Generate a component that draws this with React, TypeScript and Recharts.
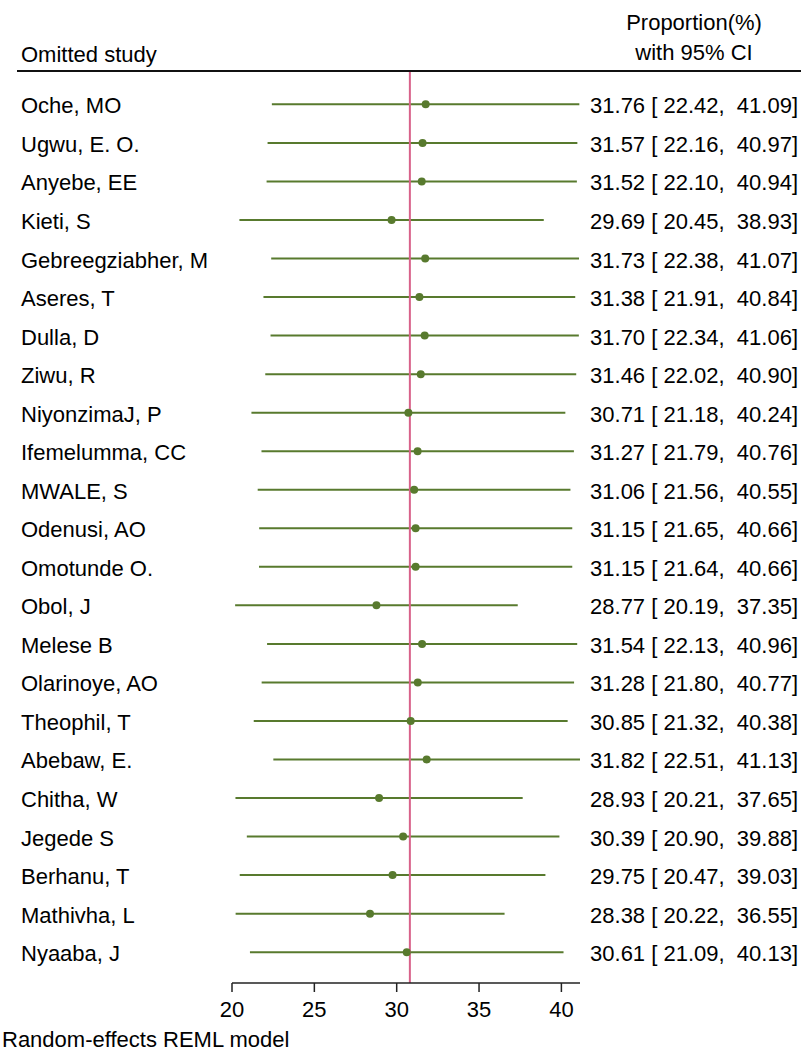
import {
  ErrorBar,
  ReferenceLine,
  Scatter,
  ScatterChart,
  XAxis,
  YAxis,
} from "recharts";

const studies = [
  "Oche, MO",
  "Ugwu, E. O.",
  "Anyebe, EE",
  "Kieti, S",
  "Gebreegziabher, M",
  "Aseres, T",
  "Dulla, D",
  "Ziwu, R",
  "NiyonzimaJ, P",
  "Ifemelumma, CC",
  "MWALE, S",
  "Odenusi, AO",
  "Omotunde O.",
  "Obol, J",
  "Melese B",
  "Olarinoye, AO",
  "Theophil, T",
  "Abebaw, E.",
  "Chitha, W",
  "Jegede S",
  "Berhanu, T",
  "Mathivha, L",
  "Nyaaba, J",
];

const estimates = [
  31.76, 31.57, 31.52, 29.69, 31.73, 31.38, 31.7, 31.46, 30.71, 31.27, 31.06,
  31.15, 31.15, 28.77, 31.54, 31.28, 30.85, 31.82, 28.93, 30.39, 29.75, 28.38,
  30.61,
];

const lowers = [
  22.42, 22.16, 22.1, 20.45, 22.38, 21.91, 22.34, 22.02, 21.18, 21.79, 21.56,
  21.65, 21.64, 20.19, 22.13, 21.8, 21.32, 22.51, 20.21, 20.9, 20.47, 20.22,
  21.09,
];

const uppers = [
  41.09, 40.97, 40.94, 38.93, 41.07, 40.84, 41.06, 40.9, 40.24, 40.76, 40.55,
  40.66, 40.66, 37.35, 40.96, 40.77, 40.38, 41.13, 37.65, 39.88, 39.03, 36.55,
  40.13,
];

const overall = 30.8;
const xTicks = [20, 25, 30, 35, 40];

const GREEN = "#587a2e";
const PINK = "#d8628a";
const FONT = '"Liberation Sans", Arial, Helvetica, sans-serif';

const rows = studies.map((name, i) => ({
  row: i,
  name,
  est: estimates[i],
  err: [estimates[i] - lowers[i], uppers[i] - estimates[i]],
  label: `${estimates[i].toFixed(2)} [ ${lowers[i].toFixed(2)},  ${uppers[i].toFixed(2)}]`,
}));

function RowTick(props: any) {
  const { y, payload } = props;
  const r = rows[payload.value];
  if (!r) return null;
  return (
    <g>
      <text x={21} y={y} dy={9} fontSize={22} fill="#000" textAnchor="start">
        {r.name}
      </text>
      <text
        x={798}
        y={y}
        dy={9}
        fontSize={22}
        fill="#000"
        textAnchor="end"
        style={{ whiteSpace: "pre" }}
      >
        {r.label}
      </text>
    </g>
  );
}

function Dot(props: any) {
  const { cx, cy } = props;
  return <circle cx={cx} cy={cy} r={4} fill={GREEN} />;
}

export default function App() {
  return (
    <div
      style={{
        position: "absolute",
        left: 0,
        top: 0,
        width: 801,
        height: 1052,
        background: "#fff",
        fontFamily: FONT,
        color: "#000",
      }}
    >
      <div style={{ position: "absolute", left: 21, top: 42, fontSize: 22, lineHeight: "25px" }}>
        Omitted study
      </div>
      <div
        style={{
          position: "absolute",
          left: 594,
          top: 11,
          width: 200,
          textAlign: "center",
          fontSize: 22,
          lineHeight: "30px",
        }}
      >
        <div style={{ marginTop: -3 }}>Proportion(%)</div>
        <div>with 95% CI</div>
      </div>
      <div
        style={{
          position: "absolute",
          left: 17,
          top: 70,
          width: 784,
          height: 2,
          background: "#111",
        }}
      />

      <ScatterChart
        width={801}
        height={1052}
        margin={{ top: 72, right: 221, bottom: 0, left: 0 }}
        style={{ fontFamily: FONT }}
      >
        <XAxis
          type="number"
          dataKey="est"
          domain={[20, 41.13]}
          ticks={xTicks}
          allowDataOverflow
          height={69}
          tickSize={9}
          tickMargin={9}
          axisLine={{ stroke: "#222", strokeWidth: 1.5 }}
          tickLine={{ stroke: "#222", strokeWidth: 1.5 }}
          tick={{ fontSize: 22, fill: "#000" }}
        />
        <YAxis
          type="number"
          dataKey="row"
          domain={[-0.84, 22.8]}
          reversed
          ticks={rows.map((r) => r.row)}
          interval={0}
          width={232}
          axisLine={false}
          tickLine={false}
          tick={<RowTick />}
        />
        <Scatter data={rows} shape={<Dot />} isAnimationActive={false}>
          <ErrorBar
            dataKey="err"
            direction="x"
            width={0}
            stroke={GREEN}
            strokeWidth={2}
            isAnimationActive={false}
          />
        </Scatter>
        <ReferenceLine x={overall} stroke={PINK} strokeWidth={2} />
      </ScatterChart>

      <div
        style={{
          position: "absolute",
          left: 2,
          top: 1027,
          fontSize: 22,
          lineHeight: "25px",
          whiteSpace: "nowrap",
        }}
      >
        Random-effects REML model
      </div>
    </div>
  );
}
